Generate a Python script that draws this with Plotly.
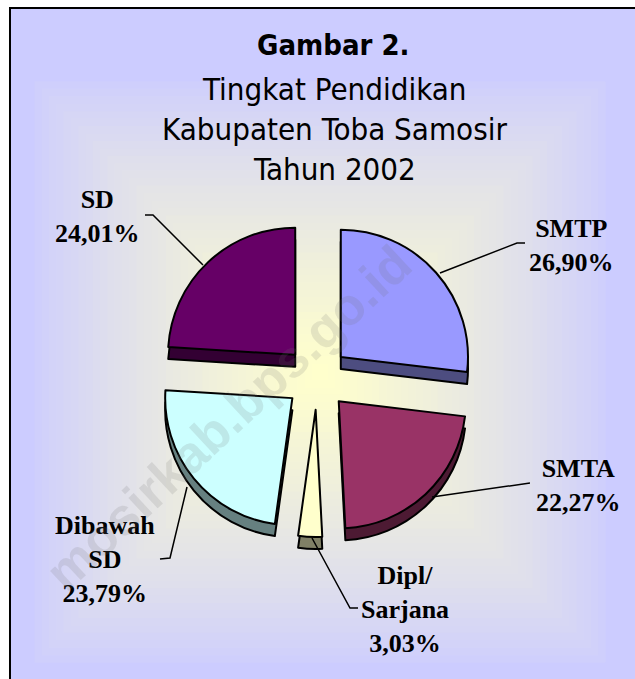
import plotly.graph_objects as go

# ---- data ----
categories = ["SMTP", "SMTA", "Dipl/Sarjana", "Dibawah SD", "SD"]
values = [26.90, 22.27, 3.03, 23.79, 24.01]
label_texts = ["SMTP<br>26,90%", "SMTA<br>22,27%", "Dipl/<br>Sarjana<br>3,03%",
               "Dibawah<br>SD<br>23,79%", "SD<br>24,01%"]
title_bold = "Gambar 2."
title_lines = ["Tingkat Pendidikan", "Kabupaten Toba Samosir", "Tahun 2002"]

top_colors = ["#9999FF", "#993366", "#FFFFCC", "#CCFFFF", "#660066"]
side_colors = ["#4D4D80", "#4D1A33", "#808066", "#668080", "#330033"]

W, H = 635, 679
def px(x):
    return x / W
def py(y):
    return 1 - y / H

pull = 0.25
cx, cy, half = 317, 378, 159
depth = 12

fig = go.Figure()
# side (extrusion) layer
fig.add_trace(go.Pie(
    labels=categories, values=values, sort=False, direction="clockwise", rotation=0,
    pull=[pull] * len(values), textinfo="none", hoverinfo="skip", showlegend=False,
    marker=dict(colors=side_colors, line=dict(color="black", width=2)),
    domain=dict(x=[px(cx - half), px(cx + half)], y=[py(cy + depth + half), py(cy + depth - half)]),
))
# top face
fig.add_trace(go.Pie(
    labels=categories, values=values, sort=False, direction="clockwise", rotation=0,
    pull=[pull] * len(values), textinfo="none", hoverinfo="skip", showlegend=False,
    marker=dict(colors=top_colors, line=dict(color="black", width=2)),
    domain=dict(x=[px(cx - half), px(cx + half)], y=[py(cy + half), py(cy - half)]),
))

shapes = []
# rectangular gradient
outer = (204, 204, 255)
inner = (255, 255, 204)
N = 40
gx, gy = 320, 372
hx0, hy0 = 285, 290
for i in range(N):
    t = i / (N - 1)
    c = tuple(round(outer[k] + (inner[k] - outer[k]) * (t ** 0.8)) for k in range(3))
    hx = hx0 * (1 - t) + 8
    hy = hy0 * (1 - t) + 8
    shapes.append(dict(type="rect", xref="paper", yref="paper",
                       x0=px(gx - hx), x1=px(gx + hx), y0=py(gy + hy), y1=py(gy - hy),
                       fillcolor="rgb(%d,%d,%d)" % c, line=dict(width=0), layer="below"))
# white outside the frame (top and left strips) and the frame border
shapes.append(dict(type="rect", xref="paper", yref="paper", x0=0, x1=1, y0=py(8), y1=1,
                   fillcolor="white", line=dict(width=0), layer="below"))
shapes.append(dict(type="rect", xref="paper", yref="paper", x0=0, x1=px(10), y0=0, y1=1,
                   fillcolor="white", line=dict(width=0), layer="below"))
shapes.append(dict(type="path", xref="paper", yref="paper",
                   path="M %f,%f L %f,%f L %f,%f" % (px(10), 0, px(10), py(8), 1, py(8)),
                   line=dict(color="black", width=2)))

# leader lines
leaders = [
    [(440, 273), (517, 243), (525, 243)],
    [(432, 497), (530, 483)],
    [(312, 538), (350, 608), (358, 608)],
    [(187, 487), (170, 558), (160, 559)],
    [(203, 265), (153, 215), (145, 215)],
]
for pts in leaders:
    path = "M " + " L ".join("%f,%f" % (px(x), py(y)) for x, y in pts)
    shapes.append(dict(type="path", xref="paper", yref="paper", path=path,
                       line=dict(color="black", width=1.5)))

annotations = []
title_font = "DejaVu Sans Condensed, Liberation Sans Narrow, sans-serif"
annotations.append(dict(text="<b>" + title_bold + "</b>", x=px(333), y=py(45), xref="paper", yref="paper",
                        showarrow=False, font=dict(family=title_font, size=29, color="black"),
                        xanchor="center", yanchor="middle"))
for i, line in enumerate(title_lines):
    annotations.append(dict(text=line, x=px(335), y=py(89 + 40 * i), xref="paper", yref="paper",
                            showarrow=False, font=dict(family=title_font, size=31, color="black"),
                            xanchor="center", yanchor="middle"))

label_pos = [(571, 245), (578, 485), (405, 609), (105, 559), (97, 216)]
for txt, (x, y) in zip(label_texts, label_pos):
    annotations.append(dict(text="<b>" + txt + "</b>", x=px(x), y=py(y), xref="paper", yref="paper",
                            showarrow=False, align="center",
                            font=dict(family="Liberation Serif, Times New Roman, serif", size=26, color="black"),
                            xanchor="center", yanchor="middle"))

# watermark
annotations.append(dict(text="<b>mosirkab.bps.go.id</b>", x=px(228), y=py(418), xref="paper", yref="paper",
                        showarrow=False, textangle=-43,
                        font=dict(family="Liberation Sans, Arial, sans-serif", size=52,
                                  color="rgba(110,110,110,0.16)"),
                        xanchor="center", yanchor="middle"))

fig.update_layout(width=W, height=H, margin=dict(l=0, r=0, t=0, b=0),
                  paper_bgcolor="#CCCCFF", plot_bgcolor="rgba(0,0,0,0)",
                  shapes=shapes, annotations=annotations, showlegend=False)

fig.write_html("out.html", config={"displayModeBar": False},
               post_script="document.body.style.margin='0';document.body.style.padding='0';")
